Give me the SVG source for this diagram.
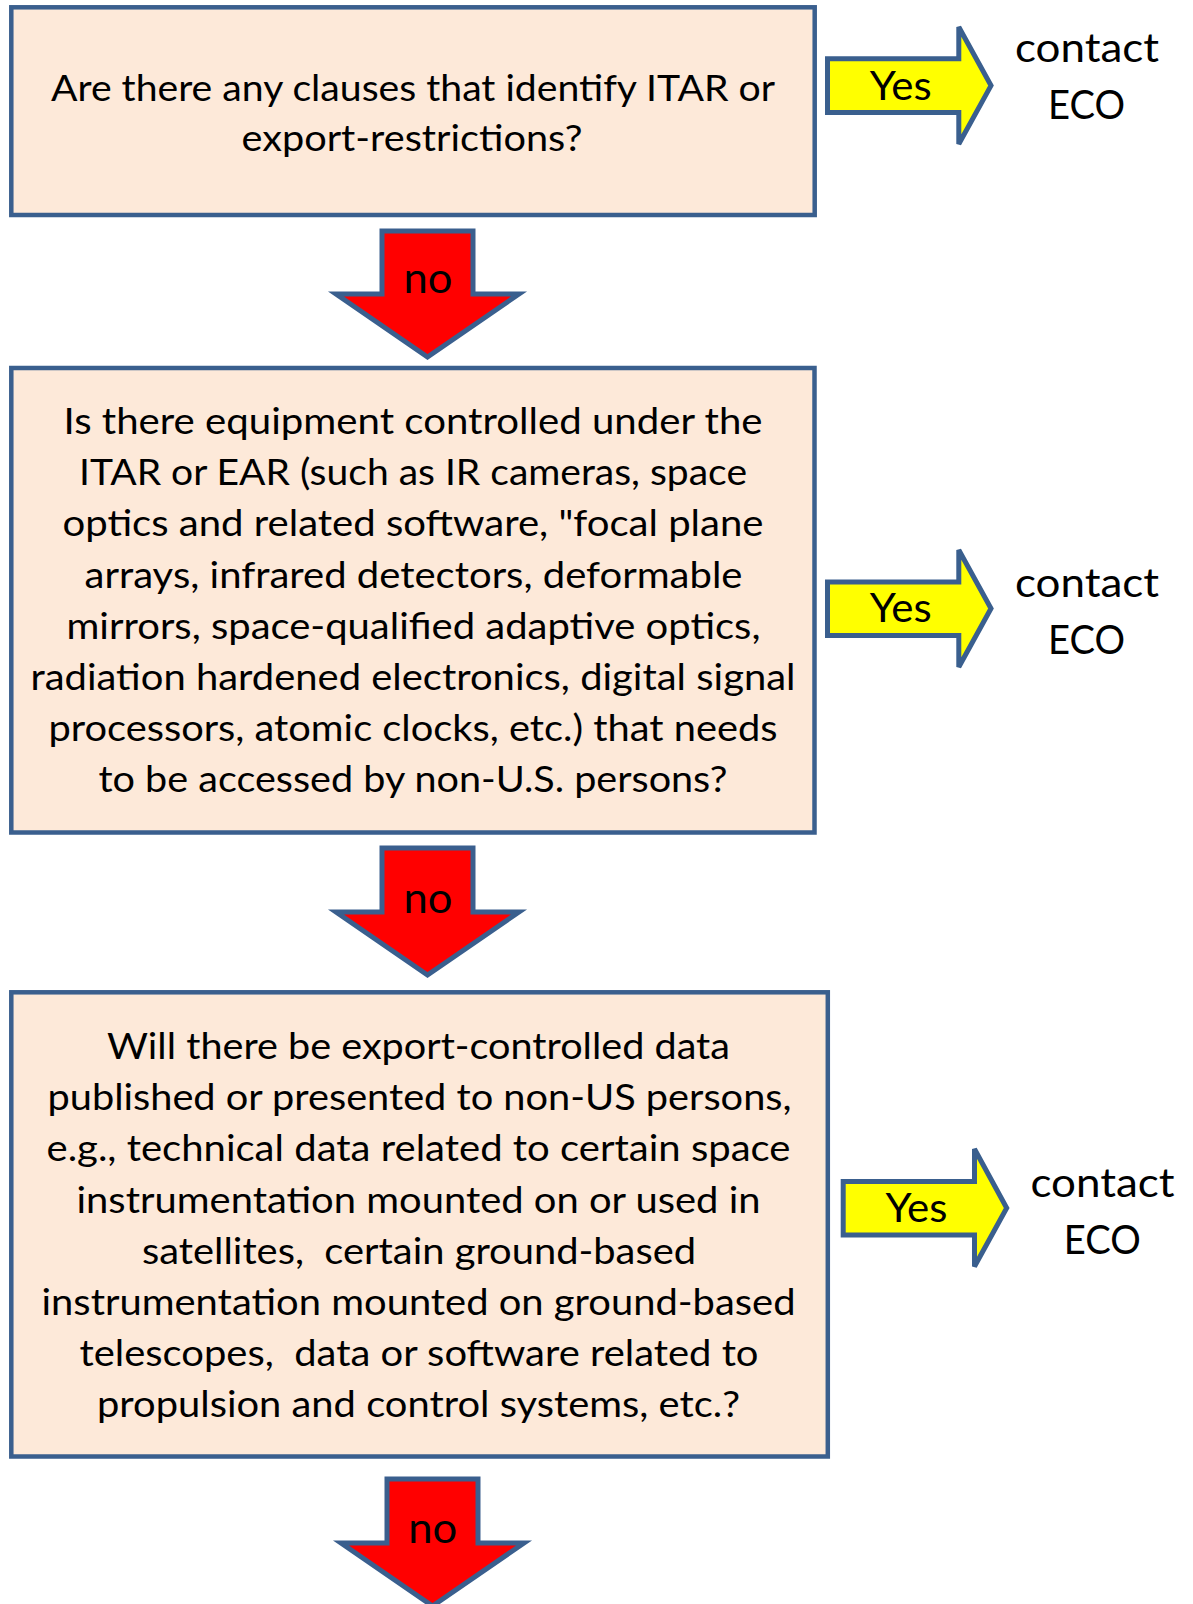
<svg xmlns="http://www.w3.org/2000/svg" width="1193" height="1604" viewBox="0 0 1193 1604">
<style>
.box{fill:#FDE9D9;stroke:#3A5F8E;stroke-width:4.5}
.t{font-family:Lato,"Open Sans","Liberation Sans",sans-serif;font-size:36px;fill:#000;text-anchor:middle}
.yes{fill:#FFFF00;stroke:#3A5F8E;stroke-width:5;stroke-linejoin:miter}
.no{fill:#FF0000;stroke:#3A5F8E;stroke-width:5;stroke-linejoin:miter}
.l{font-family:Lato,"Open Sans","Liberation Sans",sans-serif;font-size:40px;fill:#000;text-anchor:middle}
.n{font-size:43px}
.pre{white-space:pre}
</style>
<rect width="1193" height="1604" fill="#FFFFFF"/>
<g id="box1">
<rect class="box" x="11.3" y="7.3" width="803.4" height="207.7"/>
<text class="t" x="413" y="100.5" textLength="724" lengthAdjust="spacingAndGlyphs">Are there any clauses that identify ITAR or</text>
<text class="t" x="412" y="151" textLength="341" lengthAdjust="spacingAndGlyphs">export-restrictions?</text>
</g>
<g id="box2">
<rect class="box" x="11.3" y="368" width="803.2" height="464.5"/>
<text class="t" x="413" y="434" textLength="699" lengthAdjust="spacingAndGlyphs">Is there equipment controlled under the</text>
<text class="t" x="413" y="485.2" textLength="668" lengthAdjust="spacingAndGlyphs">ITAR or EAR (such as IR cameras, space</text>
<text class="t" x="413" y="536.3" textLength="701" lengthAdjust="spacingAndGlyphs">optics and related software, "focal plane</text>
<text class="t" x="413.5" y="587.5" textLength="658" lengthAdjust="spacingAndGlyphs">arrays, infrared detectors, deformable</text>
<text class="t" x="413.5" y="638.6" textLength="694" lengthAdjust="spacingAndGlyphs">mirrors, space-qualified adaptive optics,</text>
<text class="t" x="413" y="689.8" textLength="765" lengthAdjust="spacingAndGlyphs">radiation hardened electronics, digital signal</text>
<text class="t" x="413" y="741" textLength="729" lengthAdjust="spacingAndGlyphs">processors, atomic clocks, etc.) that needs</text>
<text class="t" x="413" y="792.1" textLength="629" lengthAdjust="spacingAndGlyphs">to be accessed by non-U.S. persons?</text>
</g>
<g id="box3">
<rect class="box" x="11.3" y="992.3" width="816.5" height="464.2"/>
<text class="t" x="418.5" y="1059" textLength="623" lengthAdjust="spacingAndGlyphs">Will there be export-controlled data</text>
<text class="t" x="419.5" y="1110.2" textLength="744" lengthAdjust="spacingAndGlyphs">published or presented to non-US persons,</text>
<text class="t" x="418.5" y="1161.3" textLength="744" lengthAdjust="spacingAndGlyphs">e.g., technical data related to certain space</text>
<text class="t" x="418.5" y="1212.5" textLength="684" lengthAdjust="spacingAndGlyphs">instrumentation mounted on or used in</text>
<text class="t pre" x="419" y="1263.6" textLength="554" lengthAdjust="spacingAndGlyphs">satellites,  certain ground-based</text>
<text class="t" x="418.5" y="1314.8" textLength="754" lengthAdjust="spacingAndGlyphs">instrumentation mounted on ground-based</text>
<text class="t pre" x="419" y="1366" textLength="679" lengthAdjust="spacingAndGlyphs">telescopes,  data or software related to</text>
<text class="t" x="418.5" y="1417.1" textLength="643" lengthAdjust="spacingAndGlyphs">propulsion and control systems, etc.?</text>
</g>
<g id="eco1">
<text class="l" x="1087" y="61.7" textLength="144" lengthAdjust="spacingAndGlyphs">contact</text>
<text class="l" x="1086.5" y="119" textLength="77" lengthAdjust="spacingAndGlyphs">ECO</text>
</g>
<g id="eco2">
<text class="l" x="1087" y="597.3" textLength="144" lengthAdjust="spacingAndGlyphs">contact</text>
<text class="l" x="1086.5" y="654" textLength="77" lengthAdjust="spacingAndGlyphs">ECO</text>
</g>
<g id="eco3">
<text class="l" x="1102.5" y="1196.7" textLength="144" lengthAdjust="spacingAndGlyphs">contact</text>
<text class="l" x="1102.3" y="1254" textLength="77" lengthAdjust="spacingAndGlyphs">ECO</text>
</g>
<g id="connectors">
<g id="yes1">
<polygon class="yes" points="827.5,58.8 958.8,58.8 958.8,27 991,85.6 958.8,144 958.8,112.5 827.5,112.5"/>
<text class="l" x="900.7" y="100" textLength="62" lengthAdjust="spacingAndGlyphs">Yes</text>
</g>
<g id="yes2">
<polygon class="yes" points="827.5,582 958.8,582 958.8,550 991,608.5 958.8,667 958.8,635.5 827.5,635.5"/>
<text class="l" x="900.7" y="622.3" textLength="62" lengthAdjust="spacingAndGlyphs">Yes</text>
</g>
<g id="yes3">
<polygon class="yes" points="843.2,1181.5 974.5,1181.5 974.5,1149 1006.7,1208 974.5,1266.5 974.5,1235 843.2,1235"/>
<text class="l" x="916.5" y="1221.7" textLength="62" lengthAdjust="spacingAndGlyphs">Yes</text>
</g>
<g id="no1">
<polygon class="no" points="382,231 473,231 473,294 519,294 427.5,357 336,294 382,294"/>
<text class="l n" x="428" y="293.3" textLength="49" lengthAdjust="spacingAndGlyphs">no</text>
</g>
<g id="no2">
<polygon class="no" points="382,848 473,848 473,912 519,912 427.5,975 336,912 382,912"/>
<text class="l n" x="428" y="912.7" textLength="49" lengthAdjust="spacingAndGlyphs">no</text>
</g>
<g id="no3">
<polygon class="no" points="387,1479 478,1479 478,1543 524,1543 432.5,1606 341,1543 387,1543"/>
<text class="l n" x="432.7" y="1542.7" textLength="49" lengthAdjust="spacingAndGlyphs">no</text>
</g>
</g>
</svg>
